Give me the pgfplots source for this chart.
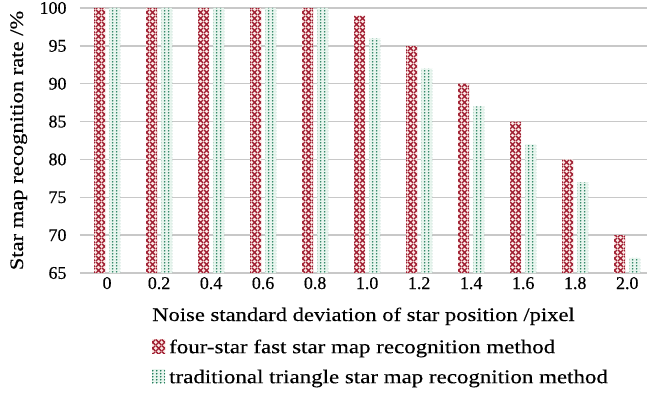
\documentclass[border=0pt]{standalone}
\usepackage{pgfplots}
\pgfplotsset{compat=1.18}
\usepackage{fontspec}
\setmainfont{Liberation Serif}[FakeStretch=1.18, FakeBold=0.3]
\newfontfamily\tickfont{Liberation Serif}[FakeBold=0.3]
\usetikzlibrary{patterns.meta}
\definecolor{myred}{RGB}{160,30,50}
\definecolor{redlight}{RGB}{250,232,228}
\definecolor{mygreen}{RGB}{15,115,78}
\definecolor{greenlight}{RGB}{232,245,238}
\definecolor{gridgray}{RGB}{200,200,200}
\tikzdeclarepattern{
  name=redx, type=uncolored,
  bounding box={(0,0) and (6bp,6bp)}, tile size={(6bp,6bp)},
  code={\draw[line width=1.5bp] (0,0)--(6bp,6bp) (0,6bp)--(6bp,0);}
}
\tikzdeclarepattern{
  name=greendots, type=uncolored,
  bounding box={(0,0) and (3.7bp,3bp)}, tile size={(3.7bp,3bp)},
  code={\fill (1.85bp,1.5bp) circle (1bp);}
}
\begin{document}
\begin{tikzpicture}
\begin{axis}[
  scale only axis,
  width=567bp, height=265bp,
  ybar=4bp, bar width=11bp,
  xmin=-0.52, xmax=10.38,
  ymin=65, ymax=100,
  ytick={65,70,...,100},
  xtick={0,...,10},
  xticklabels={0,0.2,0.4,0.6,0.8,1.0,1.2,1.4,1.6,1.8,2.0},
  axis line style={draw=none},
  major tick length=0pt,
  ymajorgrids, grid style={gridgray, line width=1.3pt},
  tick label style={font=\tickfont\fontsize{18}{20}\selectfont},
  /pgf/number format/assume math mode=true,
  xticklabel style={anchor=base, yshift=-16bp},
  yticklabel style={anchor=east, xshift=-10bp},
  xlabel={Noise standard deviation of star position /pixel},
  ylabel={Star map recognition rate /\%},
  xlabel style={font=\fontsize{19.2}{22}\selectfont, at={([yshift=-48bp]axis description cs:0.5,0)}, anchor=base},
  ylabel style={font=\fontsize{19.2}{21}\selectfont, at={([xshift=-57bp]axis description cs:0,0.5)}, anchor=base},
  legend style={at={([xshift=72bp,yshift=-66bp]axis description cs:0,0)}, anchor=north west, draw=none, fill=none,
    font=\fontsize{19.5}{21}\selectfont, row sep=12bp, legend cell align=left,
    inner sep=0pt, nodes={inner ysep=0pt, inner xsep=4bp, text height=14bp, text depth=4bp}},
  legend image code/.code={\fill[#1] (0bp,-5bp) rectangle (13bp,9bp);},
]
\addplot[draw=none, fill=redlight, postaction={pattern={redx}, pattern color=myred}] coordinates {
(0,100) (1,100) (2,100) (3,100) (4,100) (5,99) (6,95) (7,90) (8,85) (9,80) (10,70)};
\addlegendentry{four-star fast star map recognition method}
\addplot[draw=none, fill=greenlight, postaction={pattern={greendots}, pattern color=mygreen}] coordinates {
(0,100) (1,100) (2,100) (3,100) (4,100) (5,96) (6,92) (7,87) (8,82) (9,77) (10,67)};
\addlegendentry{traditional triangle star map recognition method}
\end{axis}
\pgfresetboundingbox
\path[use as bounding box] ([xshift=-80bp,yshift=-120bp]current axis.south west) rectangle ([yshift=8bp]current axis.north east);
\end{tikzpicture}
\end{document}
